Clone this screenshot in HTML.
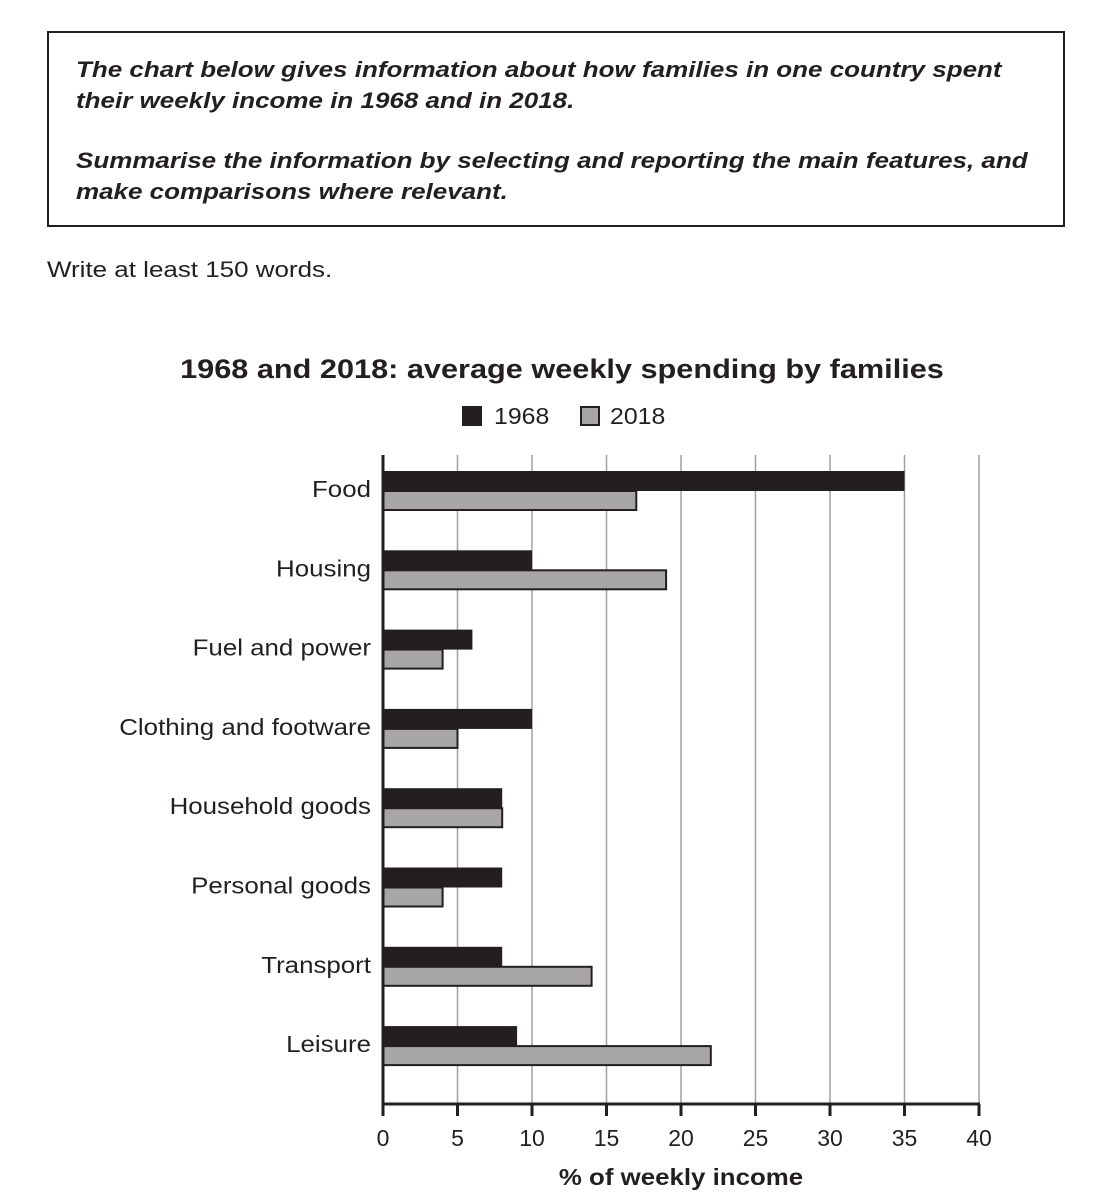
<!DOCTYPE html>
<html><head><meta charset="utf-8"><style>
body{margin:0;width:1102px;height:1204px;background:#fff;font-family:"Liberation Sans",sans-serif;position:relative;overflow:hidden;color:#231f20}
#box{position:absolute;left:47px;top:31px;width:1014px;height:192px;border:2px solid #231f20}
#box p{margin:0;position:absolute;left:27px;font-weight:bold;font-style:italic;font-size:22.5px;line-height:31px;transform:scaleX(1.155);transform-origin:0 0;white-space:nowrap}
#write{position:absolute;left:47px;top:257px;font-size:22px;transform:scaleX(1.18);transform-origin:0 0;white-space:nowrap}
svg{position:absolute;left:0;top:0}
</style></head><body>
<div id="box">
<p style="top:21px">The chart below gives information about how families in one country spent<br>their weekly income in 1968 and in 2018.</p>
<p style="top:112px">Summarise the information by selecting and reporting the main features, and<br>make comparisons where relevant.</p>
</div>
<div id="write">Write at least 150 words.</div>
<svg id="chart" width="1102" height="1204"></svg>
<script>
const categories=["Food","Housing","Fuel and power","Clothing and footware","Household goods","Personal goods","Transport","Leisure"];
const values1968=[35,10,6,10,8,8,8,9];
const values2018=[17,19,4,5,8,4,14,22];
const xTicks=[0,5,10,15,20,25,30,35,40];
const svg=document.getElementById('chart');const NS='http://www.w3.org/2000/svg';
const x0=383,x1=979,yTop=455,yBase=1104,gTop=471,gStep=79.3,bh=20;
const xs=v=>x0+(v-0)/(40-0)*(x1-x0);
const ys=i=>gTop+i*gStep;
function el(t,a,txt){const e=document.createElementNS(NS,t);for(const k in a)e.setAttribute(k,a[k]);if(txt!==undefined)e.textContent=txt;svg.appendChild(e);return e;}
function stretch(e,f){const w=e.getComputedTextLength();e.setAttribute('textLength',w*f);e.setAttribute('lengthAdjust','spacingAndGlyphs');}
let t=el('text',{x:562,y:378,'text-anchor':'middle','font-size':27,'font-weight':'bold',fill:'#231f20'},'1968 and 2018: average weekly spending by families');


stretch(t,1.136);
let r=el('rect',{x:462,y:406,width:20,height:20,fill:'#231f20'});


t=el('text',{x:494,y:424,'font-size':23,fill:'#231f20'},'1968');


stretch(t,1.08);
r=el('rect',{x:581,y:407,width:18,height:18,fill:'#a7a5a6',stroke:'#231f20','stroke-width':2});


t=el('text',{x:610,y:424,'font-size':23,fill:'#231f20'},'2018');


stretch(t,1.08);
xTicks.forEach(v=>{
 if(v>0){const g=el('line',{x1:xs(v),x2:xs(v),y1:yTop,y2:yBase,stroke:'#a0a0a0','stroke-width':1.5});
 
 }
 const k=el('line',{x1:xs(v),x2:xs(v),y1:yBase,y2:yBase+12,stroke:'#231f20','stroke-width':3});
 
 
 const l=el('text',{x:xs(v),y:1146,'text-anchor':'middle','font-size':23,fill:'#231f20'},String(v));
 
 
});
categories.forEach((c,i)=>{
 const y=ys(i);
 const b1=el('rect',{x:x0,y:y,width:xs(values1968[i])-x0,height:bh,fill:'#231f20'});
 
 
 const b2=el('rect',{x:x0,y:y+bh,width:xs(values2018[i])-x0,height:bh-1,fill:'#a7a5a6',stroke:'#231f20','stroke-width':2});
 
 
 const l=el('text',{x:371,y:y+26,'text-anchor':'end','font-size':23,fill:'#231f20'},c);
 
 
 stretch(l,1.125);
});
let a=el('line',{x1:x0,x2:x0,y1:yTop,y2:yBase+1,stroke:'#231f20','stroke-width':3});


a=el('line',{x1:x0-1,x2:x1+1,y1:yBase,y2:yBase,stroke:'#231f20','stroke-width':3});


t=el('text',{x:681,y:1185,'text-anchor':'middle','font-size':23,'font-weight':'bold',fill:'#231f20'},'% of weekly income');


stretch(t,1.124);
</script>
</body></html>
